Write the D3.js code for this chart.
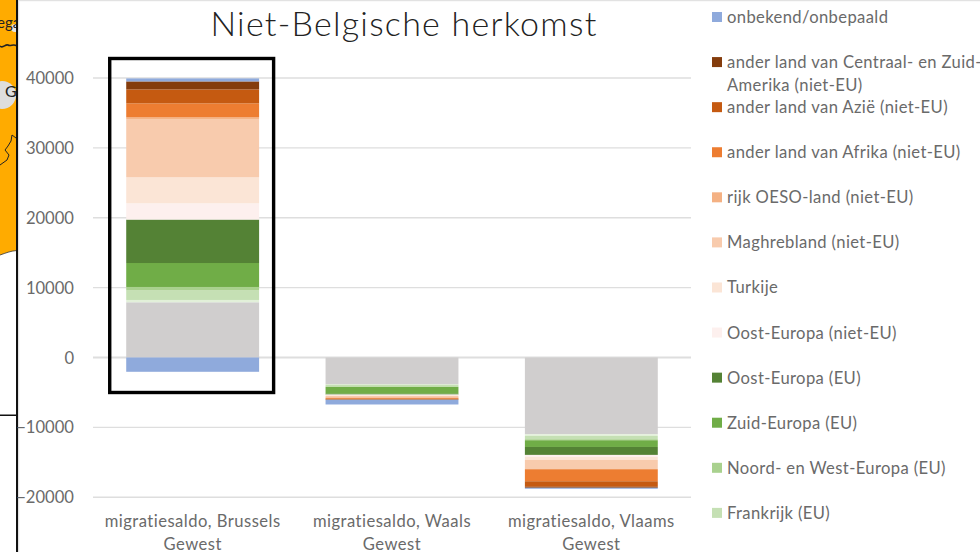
<!DOCTYPE html>
<html><head><meta charset="utf-8">
<script src="https://cdn.jsdelivr.net/npm/d3@7"></script>
<style>
html,body{margin:0;padding:0;background:#fff;overflow:hidden}
svg{display:block}
text{font-family:Lato,"Open Sans",sans-serif}
</style></head><body><div id="c"></div>
<script>
const title = "Niet-Belgische herkomst";
const categories = ["migratiesaldo, Brussels|Gewest","migratiesaldo, Waals|Gewest","migratiesaldo, Vlaams|Gewest"];
const tickValues = [40000,30000,20000,10000,0,-10000,-20000];
// stack order: bottom to top
const seriesNames = ["grijs","ander buurland (EU)","Frankrijk (EU)","Noord- en West-Europa (EU)","Zuid-Europa (EU)","Oost-Europa (EU)","Oost-Europa (niet-EU)","Turkije","Maghrebland (niet-EU)","rijk OESO-land (niet-EU)","ander land van Afrika (niet-EU)","ander land van Azië (niet-EU)","ander land van Centraal- en Zuid-|Amerika (niet-EU)","onbekend/onbepaald","overig"];
const seriesColors = ["#D0CECE","#E2F0D9","#C5E0B4","#A9D18E","#70AD47","#548235","#FDF0EE","#FBE5D6","#F8CBAD","#F4B183","#ED7D31","#C55A11","#843C0C","#8FAADC","#8FAADC"];
const grijs     = [7900,-3840,-10990];
const buurland  = [330,-50,-240];
const frankrijk = [1360,-290,-470];
const noordWest = [500,-30,-150];
const zuid      = [3430,-1000,-960];
const oostEU    = [6220,-100,-1140];
const oostNiet  = [2330,-100,-290];
const turkije   = [3720,-90,-430];
const maghreb   = [8350,-240,-1290];
const oeso      = [230,-30,-40];
const afrika    = [2000,-140,-1720];
const azie      = [2000,-100,-790];
const centraal  = [1140,-50,-140];
const onbekend  = [-2050,-670,-140];
const overig    = [430,0,0];
const seriesValues = [grijs,buurland,frankrijk,noordWest,zuid,oostEU,oostNiet,turkije,maghreb,oeso,afrika,azie,centraal,onbekend,overig];
// legend order, top to bottom (the last row is cut off by the picture edge)
const legendOrder = [13,12,11,10,9,8,7,6,5,4,3,2,1];

const W=980,H=552;
const svg=d3.select("#c").append("svg").attr("width",W).attr("height",H);
svg.append("rect").attr("width",W).attr("height",H).attr("fill","#fff");

// neighbouring slide fragment at the left edge
svg.append("clipPath").attr("id","fragClip").append("rect").attr("width",16.5).attr("height",H);
const frag=svg.append("g");
const fragIn=frag.append("g").attr("clip-path","url(#fragClip)");
fragIn.append("path").attr("d","M0,0H17V250.5C10,251 6,253 0,255Z").attr("fill","#FFAB00");
fragIn.append("path").attr("d","M0,255C6,253 10,251 17,250.5").attr("fill","none").attr("stroke","#333").attr("stroke-width",0.8);
fragIn.append("circle").attr("cx",2).attr("cy",95).attr("r",14).attr("fill","#DEDEDE");
fragIn.append("circle").attr("cx",15).attr("cy",28).attr("r",4).attr("fill","#E4E4E4");
fragIn.append("path").attr("d","M0,46C3,49 5,44 8,45C11,47 13,43 17,46").attr("fill","none").attr("stroke","#222").attr("stroke-width",1.6);
fragIn.append("path").attr("d","M0,165L7,160L9,155L5,150L8,146L11,141L12,135L16,138").attr("fill","none").attr("stroke","#222").attr("stroke-width",1);
fragIn.append("text").attr("x",-3).attr("y",28).attr("font-size",15).attr("fill","#222").text("ega");
fragIn.append("text").attr("x",5).attr("y",97).attr("font-size",16).attr("fill","#222").text("G");
frag.append("rect").attr("x",0).attr("y",414.5).attr("width",17).attr("height",1.5).attr("fill","#111");
frag.append("rect").attr("x",16).attr("y",0).attr("width",2).attr("height",H).attr("fill","#111");
frag.append("rect").attr("x",18).attr("y",0).attr("width",W-18).attr("height",1.2).attr("fill","#E2E2E2");
frag.append("rect").attr("x",18).attr("y",0).attr("width",1.2).attr("height",H).attr("fill","#E2E2E2");

const y=d3.scaleLinear().domain([-20000,40000]).range([497.2,78]);
const x=d3.scaleBand().domain(categories).range([93,691]).paddingInner(1/3).paddingOuter(1/6);

const table=categories.map((c,i)=>{const r={cat:c};seriesNames.forEach((n,s)=>r[n]=seriesValues[s][i]);return r;});
const stacked=d3.stack().keys(seriesNames).offset(d3.stackOffsetDiverging)(table);

// gridlines and value axis
const axis=d3.axisLeft(y).tickValues(tickValues).tickFormat(d3.format("d")).tickSize(0).tickPadding(19);
const ga=svg.append("g").attr("transform","translate(93,0)").call(axis);
ga.select(".domain").remove();
ga.selectAll("text").attr("font-size",16.6).attr("fill","#6A6A6A").attr("dy","0.34em");
svg.append("g").selectAll("line").data(tickValues).join("line")
  .attr("x1",93).attr("x2",691).attr("y1",d=>y(d)).attr("y2",d=>y(d))
  .attr("stroke","#DEDEDE").attr("stroke-width",d=>d===0?2:1.4);

// bars
svg.append("g").selectAll("g").data(stacked).join("g")
  .attr("fill",(d,i)=>seriesColors[i])
  .selectAll("rect").data(d=>d).join("rect")
  .attr("x",d=>x(d.data.cat)).attr("width",x.bandwidth())
  .attr("y",d=>y(Math.max(d[0],d[1]))).attr("height",d=>Math.abs(y(d[0])-y(d[1])));

// highlight box
const b0=x(categories[0]);
svg.append("rect").attr("x",b0-16.5).attr("width",x.bandwidth()+31)
  .attr("y",y(40000)-19.5).attr("height",334).attr("fill","none").attr("stroke","#000").attr("stroke-width",3.4);

// category labels
categories.forEach(c=>{
  const t=svg.append("text").attr("text-anchor","middle").attr("font-size",16.6).attr("letter-spacing",0.47).attr("fill","#6A6A6A");
  c.split("|").forEach((l,i)=>t.append("tspan").attr("x",x(c)+x.bandwidth()/2).attr("y",527+i*22.5).text(l));
});

// title
svg.append("text").attr("x",404).attr("y",35.5).attr("text-anchor","middle").attr("font-size",34).attr("letter-spacing",1.25).attr("font-weight",300).attr("fill","#222").text(title);

// legend
const lg=svg.append("g").selectAll("g").data(legendOrder).join("g")
  .attr("transform",(d,i)=>`translate(712,${17+i*45.08})`);
lg.append("rect").attr("y",-5).attr("width",10).attr("height",10).attr("fill",d=>seriesColors[d]);
lg.each(function(d,n){
  const t=d3.select(this).append("text").attr("font-size",16.6).attr("letter-spacing",0.38).attr("fill","#6A6A6A");
  const base=n===legendOrder.length-1?9:6;
  seriesNames[d].split("|").forEach((l,i)=>t.append("tspan").attr("x",15).attr("y",base+i*23).text(l));
});
</script></body></html>
